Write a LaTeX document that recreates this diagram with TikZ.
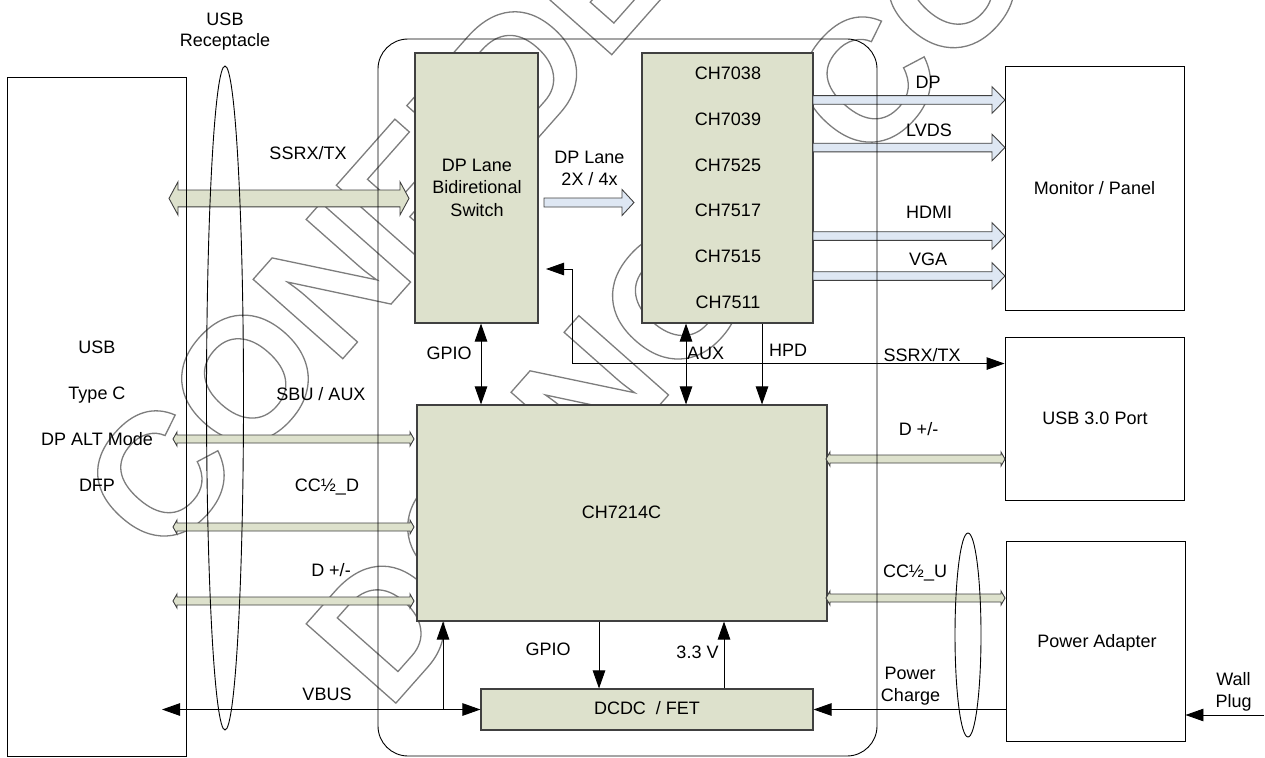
\documentclass[tikz,border=0pt]{standalone}
\usepackage{fontspec}
\setmainfont{Liberation Sans}
\usetikzlibrary{arrows.meta,calc,shapes.geometric}
\definecolor{olivef}{RGB}{221,225,204}
\definecolor{bluef}{RGB}{222,231,243}
\definecolor{wmgray}{RGB}{125,125,125}
\newcommand\wmoutline[1]{\special{pdf:literal direct 1 Tr 1.3 w}#1\special{pdf:literal direct 0 Tr}}
% single right block arrow: x1, x2, y, half shaft, half head, head length, fill
\newcommand\blkR[7]{\filldraw[fill=#7,draw=black!75,line width=0.9pt] (#1,#3-#4) -- (#2-#6,#3-#4) -- (#2-#6,#3-#5) -- (#2,#3) -- (#2-#6,#3+#5) -- (#2-#6,#3+#4) -- (#1,#3+#4) -- cycle;}
% double block arrow
\newcommand\blkLR[7]{\filldraw[fill=#7,draw=black!75,line width=0.9pt] (#1,#3) -- (#1+#6,#3-#5) -- (#1+#6,#3-#4) -- (#2-#6,#3-#4) -- (#2-#6,#3-#5) -- (#2,#3) -- (#2-#6,#3+#5) -- (#2-#6,#3+#4) -- (#1+#6,#3+#4) -- (#1+#6,#3+#5) -- cycle;}
\begin{document}
\begin{tikzpicture}[x=1pt,y=-1pt,
  font=\fontsize{18}{21}\selectfont,
  lbl/.style={inner sep=0pt,text height=13pt,text depth=0pt},
  gbox/.style={draw=black!75,line width=1.1pt,fill=olivef,inner sep=0pt},
  wbox/.style={draw=black,line width=0.9pt,inner sep=0pt},
  con/.style={draw=black,line width=0.9pt},
  wm/.style={inner sep=0pt,text=wmgray,font=\fontsize{174}{174}\bfseries},
  >={Triangle[length=18pt,width=12.5pt]}]
\useasboundingbox (0,0) rectangle (1265,757);
% watermark
\node[wm,rotate=48.5,anchor=base west] (wm1) at (162,563) {\wmoutline{CONFIDENTIAL}};
\node[wm,rotate=48.5,anchor=base west] (wm2) at (388,712) {\wmoutline{DO NOT COPY}};
% filled boxes
\node[gbox,minimum width=123pt,minimum height=270pt] (sw) at (476.5,188) {};
\node[gbox,minimum width=171pt,minimum height=270pt] (chv) at (727.5,188) {};
\node[gbox,minimum width=410pt,minimum height=216pt] (ch) at (622,513) {};
\node[gbox,minimum width=332pt,minimum height=41pt] (dcdc) at (647,709.5) {};
\node[wbox,minimum width=179pt,minimum height=244pt] (mon) at (1094.5,188) {};
\node[wbox,minimum width=179pt,minimum height=163pt] (usb3) at (1094.5,418.5) {};
\node[wbox,minimum width=179pt,minimum height=200pt] (pwr) at (1095.5,641) {};
% block arrows
\blkLR{169}{409}{198.4}{8.4}{16.6}{9}{olivef}
\blkLR{173}{414}{439}{4}{7}{4}{olivef}
\blkLR{173}{414}{527}{4}{7}{4}{olivef}
\blkLR{173}{414}{601}{4}{7}{4}{olivef}
\blkLR{826}{1005}{459}{4}{7}{4}{olivef}
\blkLR{826}{1005}{598}{4}{7}{4}{olivef}
\blkR{544}{634}{202.5}{4.5}{13}{12}{bluef}
\blkR{813}{1005}{100}{4.3}{13.3}{13}{bluef}
\blkR{813}{1005}{147.5}{4.3}{13.3}{13}{bluef}
\blkR{813}{1005}{236}{4.3}{13.3}{13}{bluef}
\blkR{813}{1005}{276}{4.3}{13.3}{13}{bluef}
% outlines
\node[wbox,minimum width=179pt,minimum height=679pt] (usbc) at (96.5,416.5) {};
\node[wbox,rounded corners=30pt,minimum width=499pt,minimum height=717pt] (board) at (627.5,397.5) {};
\node[con,ellipse,inner sep=0pt,minimum width=37pt,minimum height=664pt] (rcpt) at (225,398) {};
\node[con,ellipse,inner sep=0pt,minimum width=26pt,minimum height=204pt] (rcpt2) at (968,635) {};
% connectors
\path ([xshift=4.5pt]sw.south) coordinate (g1);
\draw[con,<->] (g1) -- (g1 |- ch.north);
\path ([xshift=-41.5pt]chv.south) coordinate (aux);
\draw[con,<->] (aux) -- (aux |- ch.north);
\path ([xshift=34.5pt]chv.south) coordinate (hpd);
\draw[con,->] (hpd) -- (hpd |- ch.north);
\path ([xshift=-23pt]ch.south) coordinate (g2);
\draw[con,->] (g2) -- (g2 |- dcdc.north);
\path ([xshift=102pt]ch.south) coordinate (v33);
\draw[con,->] (v33 |- dcdc.north) -- (v33);
\coordinate (ssa) at (546,269);
\coordinate (ssb) at (572,269);
\path (usb3.north west) ++(0,27) coordinate (usb3w);
\draw[con,<->] (ssa) -- (ssb) -- (ssb |- usb3w) -- (usb3w);
\coordinate (vl) at (162,709.5);
\draw[con,<->] (vl) -- (dcdc.west);
\coordinate (vb) at (443,709.5);
\draw[con,->] (vb) -- (vb |- ch.south);
\draw[con,->] (pwr.west |- dcdc.east) -- (dcdc.east);
\coordinate (wp) at (1264,715);
\draw[con,->] (wp) -- (wp -| pwr.east);
% labels
\node[lbl] (t-usbr1) at (225,19) {USB};
\node[lbl] (t-usbr2) at (225,40) {Receptacle};
\node[lbl] (t-ssl) at (308,153) {SSRX/TX};
\node[lbl] (t-c1) at (97,347) {USB};
\node[lbl] (t-c2) at (97,393) {Type C};
\node[lbl] (t-c3) at (97,439) {DP ALT Mode};
\node[lbl] (t-c4) at (97,485) {DFP};
\node[lbl] (t-sbu) at (321,394) {SBU / AUX};
\node[lbl] (t-ccd) at (327,485) {CC½\_D};
\node[lbl] (t-dl) at (331,570) {D +/-};
\node[lbl] (t-vbus) at (327,694) {VBUS};
\node[lbl] (t-sw1) at (477,165) {DP Lane};
\node[lbl] (t-sw2) at (477,187) {Bidiretional};
\node[lbl] (t-sw3) at (477,210) {Switch};
\node[lbl] (t-dpl1) at (589.5,157) {DP Lane};
\node[lbl] (t-dpl2) at (589.5,179) {2X / 4x};
\node[lbl] (t-ch1) at (728,73) {CH7038};
\node[lbl] (t-ch2) at (728,119) {CH7039};
\node[lbl] (t-ch3) at (728,165) {CH7525};
\node[lbl] (t-ch4) at (728,210) {CH7517};
\node[lbl] (t-ch5) at (728,256) {CH7515};
\node[lbl] (t-ch6) at (728,302) {CH7511};
\node[lbl] (t-dp) at (928,82) {DP};
\node[lbl] (t-lvds) at (929,130) {LVDS};
\node[lbl] (t-hdmi) at (929,212) {HDMI};
\node[lbl] (t-vga) at (928,259) {VGA};
\node[lbl] (t-mon) at (1094.5,187.5) {Monitor / Panel};
\node[lbl] (t-gpio1) at (449,353) {GPIO};
\node[lbl,anchor=west] (t-aux) at (687,353) {AUX};
\node[lbl,anchor=west] (t-hpd) at (769,350) {HPD};
\node[lbl] (t-ssr) at (922,355) {SSRX/TX};
\node[lbl] (t-usb3) at (1095,418) {USB 3.0 Port};
\node[lbl] (t-dr) at (918.5,429) {D +/-};
\node[lbl] (t-ccu) at (915,570.5) {CC½\_U};
\node[lbl] (t-ch) at (621.5,512) {CH7214C};
\node[lbl] (t-gpio2) at (548,649) {GPIO};
\node[lbl] (t-v33) at (697.5,651.5) {3.3 V};
\node[lbl] (t-dcdc) at (647,708) {DCDC\ \ / FET};
\node[lbl] (t-pa) at (1097,641) {Power Adapter};
\node[lbl] (t-pc1) at (910,672.5) {Power};
\node[lbl] (t-pc2) at (910.5,695) {Charge};
\node[lbl] (t-w1) at (1233.5,679) {Wall};
\node[lbl] (t-w2) at (1233.5,701) {Plug};
\end{tikzpicture}
\end{document}
